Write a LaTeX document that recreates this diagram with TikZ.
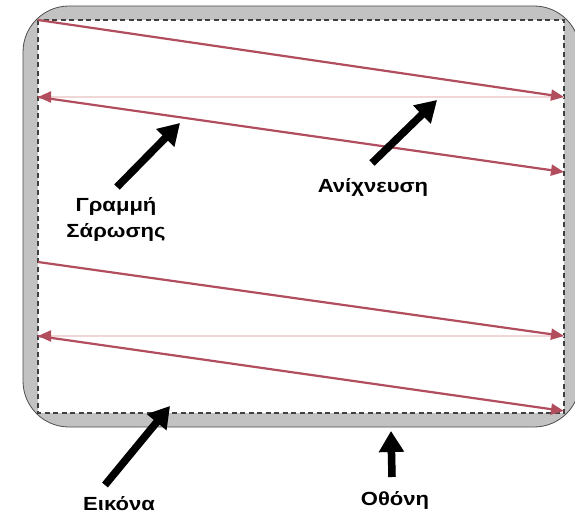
\documentclass[tikz,border=0pt]{standalone}
\usepackage{fontspec}
\setmainfont{Liberation Sans}
\usetikzlibrary{arrows.meta}
\definecolor{scanred}{HTML}{B24D5E}
\definecolor{retrace}{HTML}{F1D6D8}
\definecolor{bezel}{HTML}{C2C2C2}
\begin{document}
\begin{tikzpicture}[x=1pt,y=-1pt,
  scan/.style={scanred,line width=2.2pt,-{Triangle[length=13pt,width=11pt]}},
  ret/.style={retrace,line width=2.2pt,-{Triangle[length=13pt,width=11pt,color=scanred]}},
  callout/.style={line width=7.5pt,-{Triangle[length=21pt,width=24pt]}},
  shadowarrow/.style={callout,black!45,opacity=0.5,shift={(1.5,2.5)}},
  lbl/.style={font=\fontsize{19}{26}\selectfont\bfseries\addfontfeature{FakeStretch=1.16},inner sep=0pt,anchor=base}]
\useasboundingbox (0,0) rectangle (575,513);
% screen
\draw[fill=bezel,draw=black!70,line width=0.8pt,rounded corners=46pt] (23,6) rectangle (580,427);
\fill[white] (38,20) rectangle (564,413);
\draw[black!75,line width=1.4pt,dash pattern=on 5pt off 3.5pt] (38,20) rectangle (564,413);
% scan coordinates
\coordinate (a1) at (38,20);  \coordinate (b1) at (564,97);
\coordinate (a2) at (38,97);  \coordinate (b2) at (564,172);
\coordinate (a3) at (38,262); \coordinate (b3) at (564,336);
\coordinate (a4) at (38,336); \coordinate (b4) at (564,411);
\draw[ret] (b1) -- (a2);
\draw[ret] (b3) -- (a4);
\draw[scan] (a1) -- (b1);
\draw[scan] (a2) -- (b2);
\draw[scan] (a3) -- (b3);
\draw[scan] (a4) -- (b4);
% labels
\node[lbl,align=center] (gs) at (116,237) {Γραμμή\\Σάρωσης};
\node[lbl] (an) at (373,193) {Ανίχνευση};
\node[lbl] (ei) at (119,510) {Εικόνα};
\node[lbl] (ot) at (395,505) {Οθόνη};
% callout arrows
\coordinate (gsT) at (117,187); \coordinate (gsH) at (180,123);
\coordinate (anT) at (372,163); \coordinate (anH) at (437,100);
\coordinate (eiT) at (105,485); \coordinate (eiH) at (170,406);
\coordinate (otT) at (392,477); \coordinate (otH) at (391,431);
\foreach \t/\h in {gsT/gsH,anT/anH,eiT/eiH,otT/otH}{
  \draw[shadowarrow] (\t) -- (\h);
  \draw[callout] (\t) -- (\h);
}
\end{tikzpicture}
\end{document}
